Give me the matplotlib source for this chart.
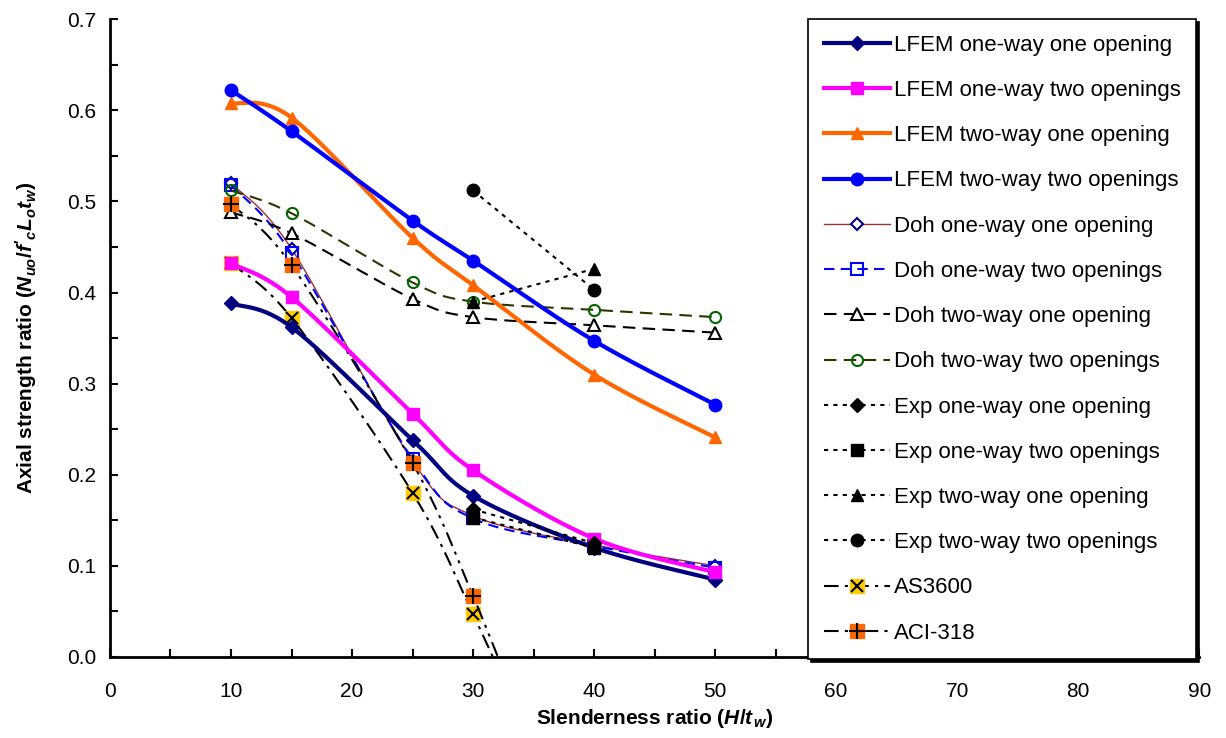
import numpy as np
import matplotlib
matplotlib.use("Agg")
import matplotlib.pyplot as plt
from matplotlib.ticker import MultipleLocator

plt.rcParams['font.family'] = ['Liberation Sans', 'DejaVu Sans']
plt.rcParams['mathtext.fontset'] = 'custom'
plt.rcParams['mathtext.rm'] = 'Liberation Sans:bold'
plt.rcParams['mathtext.it'] = 'Liberation Sans:bold:italic'
plt.rcParams['mathtext.bf'] = 'Liberation Sans:bold'

# Datos
x_all = [10, 15, 25, 30, 40, 50]
lfem_ow_oo = [0.388, 0.362, 0.238, 0.177, 0.120, 0.085]
lfem_ow_to = [0.432, 0.395, 0.267, 0.205, 0.130, 0.093]
lfem_tw_oo = [0.608, 0.592, 0.460, 0.408, 0.310, 0.241]
lfem_tw_to = [0.622, 0.577, 0.479, 0.435, 0.347, 0.277]

doh_ow_oo = [0.520, 0.448, 0.215, 0.155, 0.123, 0.100]
doh_ow_to = [0.518, 0.443, 0.217, 0.152, 0.122, 0.098]
doh_tw_oo = [0.488, 0.465, 0.393, 0.373, 0.364, 0.356]
doh_tw_to = [0.512, 0.487, 0.411, 0.390, 0.381, 0.373]

x_exp = [30, 40]
exp_ow_oo = [0.162, 0.125]
exp_ow_to = [0.153, 0.120]
exp_tw_oo = [0.390, 0.426]
exp_tw_to = [0.512, 0.403]

x_code = [10, 15, 25, 30, 35]
as3600 = [0.432, 0.372, 0.180, 0.047, -0.100]
aci318 = [0.497, 0.430, 0.213, 0.067, -0.100]
n_code_marks = 4


# Suavizado tipo Excel (Catmull-Rom)
def smooth(xs, ys, n=30):
    P = np.column_stack([xs, ys]).astype(float)
    Pe = np.vstack([P[0], P, P[-1]])
    t = np.linspace(0, 1, n, endpoint=False)[:, None]
    segs = []
    for i in range(len(P) - 1):
        p0, p1, p2, p3 = Pe[i], Pe[i + 1], Pe[i + 2], Pe[i + 3]
        seg = 0.5 * (2 * p1 + (-p0 + p2) * t + (2 * p0 - 5 * p1 + 4 * p2 - p3) * t ** 2
                     + (-p0 + 3 * p1 - 3 * p2 + p3) * t ** 3)
        segs.append(seg)
    segs.append(P[-1:])
    c = np.vstack(segs)
    return c[:, 0], c[:, 1]


def plot_smooth(ax, xs, ys, nmarks=None, n=30, **kw):
    sx, sy = smooth(xs, ys, n)
    if nmarks is None:
        nmarks = len(xs)
    marks = [i * n for i in range(nmarks)]
    return ax.plot(sx, sy, markevery=marks, **kw)[0]


fig = plt.figure(figsize=(12.26, 7.38), dpi=100)
ax = fig.add_axes([0.0897, 0.1098, 0.8885, 0.8642])

h = []
h.append(plot_smooth(ax, x_all, lfem_ow_oo, color='#000080', lw=3, marker='D', ms=7,
                     label='LFEM one-way one opening', zorder=5))
h.append(plot_smooth(ax, x_all, lfem_ow_to, color='#FF00FF', lw=3, marker='s', ms=9,
                     label='LFEM one-way two openings', zorder=5))
h.append(plot_smooth(ax, x_all, lfem_tw_oo, color='#FF6600', lw=3, marker='^', ms=9,
                     label='LFEM two-way one opening', zorder=5))
h.append(plot_smooth(ax, x_all, lfem_tw_to, color='#0000FF', lw=3, marker='o', ms=9,
                     label='LFEM two-way two openings', zorder=5))

h.append(plot_smooth(ax, x_all, doh_ow_oo, color='#993333', lw=1, marker='D', ms=6,
                     mfc='white', mec='#000080', mew=1.5,
                     label='Doh one-way one opening', zorder=4))
h.append(plot_smooth(ax, x_all, doh_ow_to, color='#0000FF', lw=1.5, dashes=(5, 3),
                     marker='s', ms=8, mfc='none', mec='#0000FF', mew=1.5,
                     label='Doh one-way two openings', zorder=4))
h.append(plot_smooth(ax, x_all, doh_tw_oo, color='black', lw=1.5, dashes=(6, 3.5),
                     marker='^', ms=8, mfc='white', mec='black', mew=1.5,
                     label='Doh two-way one opening', zorder=4))
h.append(plot_smooth(ax, x_all, doh_tw_to, color='#333300', lw=1.5, dashes=(6, 3.5),
                     marker='o', ms=8, mfc='none', mec='#006600', mew=1.5,
                     label='Doh two-way two openings', zorder=4))

h.append(ax.plot(x_exp, exp_ow_oo, color='black', lw=1.5, dashes=(2, 2.5), marker='D',
                 ms=7, label='Exp one-way one opening', zorder=6)[0])
h.append(ax.plot(x_exp, exp_ow_to, color='black', lw=1.5, dashes=(2, 2.5), marker='s',
                 ms=8, label='Exp one-way two openings', zorder=6)[0])
h.append(ax.plot(x_exp, exp_tw_oo, color='black', lw=1.5, dashes=(2, 2.5), marker='^',
                 ms=9, label='Exp two-way one opening', zorder=6)[0])
h.append(ax.plot(x_exp, exp_tw_to, color='black', lw=1.5, dashes=(2, 2.5), marker='o',
                 ms=9, label='Exp two-way two openings', zorder=6)[0])

l_as = plot_smooth(ax, x_code, as3600, nmarks=n_code_marks, color='black', lw=1.5,
                   dashes=(7, 3, 1.5, 3), marker='s', ms=10, mfc='#FFCC00',
                   mec='#FFCC00', label='AS3600', zorder=4)
l_asx = ax.plot(x_code[:n_code_marks], as3600[:n_code_marks], ls='none', marker='x',
                ms=9, mew=1.5, color='black', zorder=4.1)[0]
l_aci = plot_smooth(ax, x_code, aci318, nmarks=n_code_marks, color='black', lw=1.5,
                    dashes=(7, 3, 1.5, 3, 1.5, 3), marker='s', ms=10, mfc='#FF6600',
                    mec='#FF6600', label='ACI-318', zorder=4)
l_acix = ax.plot(x_code[:n_code_marks], aci318[:n_code_marks], ls='none', marker='+',
                 ms=11, mew=1.5, color='black', zorder=4.1)[0]
h.append((l_as, l_asx))
h.append((l_aci, l_acix))
labels = [hh.get_label() if not isinstance(hh, tuple) else hh[0].get_label() for hh in h]

ax.set_xlim(0, 90)
ax.set_ylim(0, 0.7)
ax.xaxis.set_major_locator(MultipleLocator(10))
ax.xaxis.set_minor_locator(MultipleLocator(5))
ax.yaxis.set_major_locator(MultipleLocator(0.1))
ax.yaxis.set_minor_locator(MultipleLocator(0.05))
ax.yaxis.set_major_formatter(plt.FuncFormatter(lambda v, p: f'{v:.1f}'))
ax.tick_params(which='both', direction='in', length=6, width=1.5, labelsize=15,
               top=False, right=False)
ax.tick_params(axis='x', pad=18)
ax.tick_params(axis='y', pad=10)
for s in ['top', 'right']:
    ax.spines[s].set_visible(False)
for s in ['left', 'bottom']:
    ax.spines[s].set_linewidth(2)

ax.set_xlabel(r'Slenderness ratio ($H/t_{\,w}$)', fontsize=15, fontweight='bold', labelpad=4)
ax.set_ylabel(r"Axial strength ratio ($N_{uo}/f'_{c}L_{o}t_{w}$)", fontsize=15,
              fontweight='bold', labelpad=20)

leg = ax.legend(h, labels, loc='upper left', bbox_to_anchor=(0.641, 1.0), borderaxespad=0,
                fontsize=16, labelspacing=1.09, handlelength=3.0, handletextpad=0.15,
                borderpad=0.7, fancybox=False, edgecolor='black', framealpha=1,
                shadow={'color': 'black', 'alpha': 1})
leg.get_frame().set_linewidth(1.2)
leg.set_zorder(10)

fig.savefig('out.png', dpi=100)
